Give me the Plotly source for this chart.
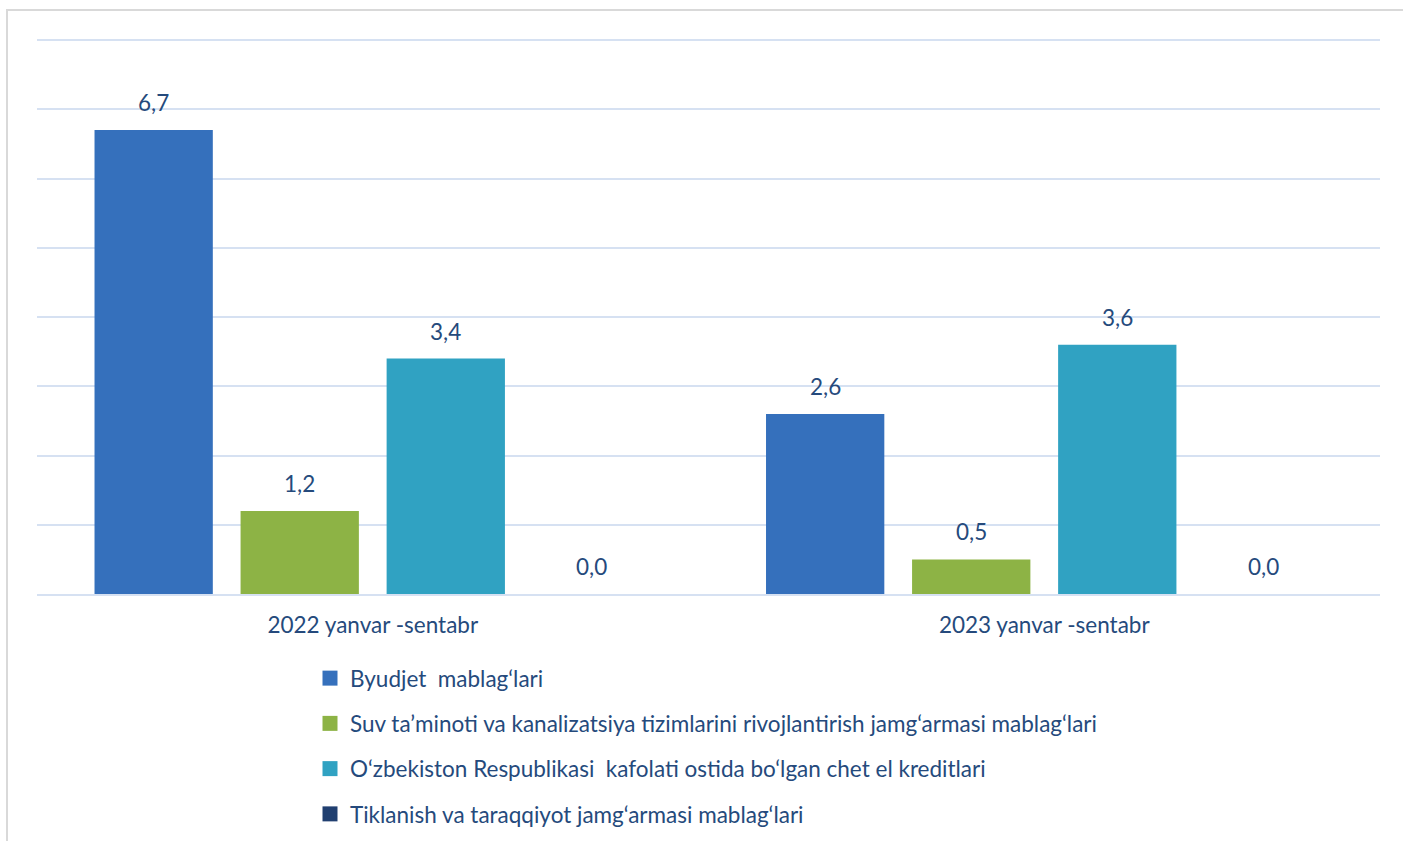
import plotly.graph_objects as go

categories = ["2022 yanvar -sentabr", "2023 yanvar -sentabr"]
series_names = [
    "Byudjet \u00a0mablag\u2018lari",
    "Suv ta\u2019minoti va kanalizatsiya tizimlarini rivojlantirish jamg\u2018armasi mablag\u2018lari",
    "O\u2018zbekiston Respublikasi \u00a0kafolati ostida bo\u2018lgan chet el kreditlari",
    "Tiklanish va taraqqiyot jamg\u2018armasi mablag\u2018lari",
]
byudjet = [6.7, 2.6]
suv = [1.2, 0.5]
kafolat = [3.4, 3.6]
tiklanish = [0.0, 0.0]
series_values = [byudjet, suv, kafolat, tiklanish]
colors = ["#3570BC", "#8DB345", "#30A2C2", "#203F70"]

FONT = "Lato"
TXT = "#254A7C"
FS = 22.5

W, H = 1403, 841
L, R, T, B = 37, 23, 36, 247
pw, ph = W - L - R, H - T - B
YMAX = 8 * ph / (ph - 4)
BARGAP, GROUPGAP = 0.13, 0.19
n = len(series_values)
slot_px = pw / len(categories) * (1 - BARGAP) / n

fig = go.Figure()
annotations = []
for i, (name, vals, col) in enumerate(zip(series_names, series_values, colors)):
    fig.add_trace(go.Bar(
        x=categories, y=vals, name=name,
        marker=dict(color=col, line=dict(width=0)),
        showlegend=False, cliponaxis=False, hoverinfo="skip",
    ))
    # legend-only entry with larger square swatch
    fig.add_trace(go.Scatter(
        x=[None], y=[None], mode="markers", name=name,
        marker=dict(symbol="square", size=15, color=col),
        legendgroup=f"g{i}", showlegend=True,
    ))
    for cat, v in zip(categories, vals):
        annotations.append(dict(
            x=cat, y=v, xref="x", yref="y",
            text=f"{v:.1f}".replace(".", ","), showarrow=False,
            xshift=(i - (n - 1) / 2) * slot_px, yshift=12,
            yanchor="bottom", xanchor="center",
            font=dict(family=FONT, size=FS, color=TXT),
        ))

fig.update_layout(
    width=W, height=H,
    margin=dict(l=L, r=R, t=T, b=B, autoexpand=False),
    barmode="group", bargap=BARGAP, bargroupgap=GROUPGAP,
    separators=", ",
    plot_bgcolor="white", paper_bgcolor="white",
    font=dict(family=FONT, size=FS, color=TXT),
    showlegend=True,
    legend=dict(
        orientation="v", xref="container", yref="container",
        x=310 / W, y=1 - 657 / H, xanchor="left", yanchor="top",
        font=dict(family=FONT, size=FS, color=TXT),
        tracegroupgap=13, bgcolor="rgba(0,0,0,0)", itemwidth=30,
    ),
    xaxis=dict(showgrid=False, showline=True, linecolor="#D6E1F2", linewidth=2,
               ticks="", tickangle=0, tickfont=dict(family=FONT, size=FS, color=TXT),
               ticklabelstandoff=10),
    yaxis=dict(range=[0, YMAX], tickvals=[1, 2, 3, 4, 5, 6, 7, 8],
               showticklabels=False, showgrid=True,
               gridcolor="#D6E1F2", gridwidth=2, zeroline=False, showline=False),
    annotations=annotations,
    shapes=[dict(type="rect", xref="paper", yref="paper",
                 x0=(7 - L) / pw, x1=(W + 20 - L) / pw,
                 y0=-1, y1=1 + (T - 10) / ph,
                 line=dict(color="#D9D9D9", width=2), layer="below")],
)

fig.write_html("out.html", config={"displayModeBar": False},
               post_script="document.body.style.margin='0';document.body.style.overflow='hidden';")
